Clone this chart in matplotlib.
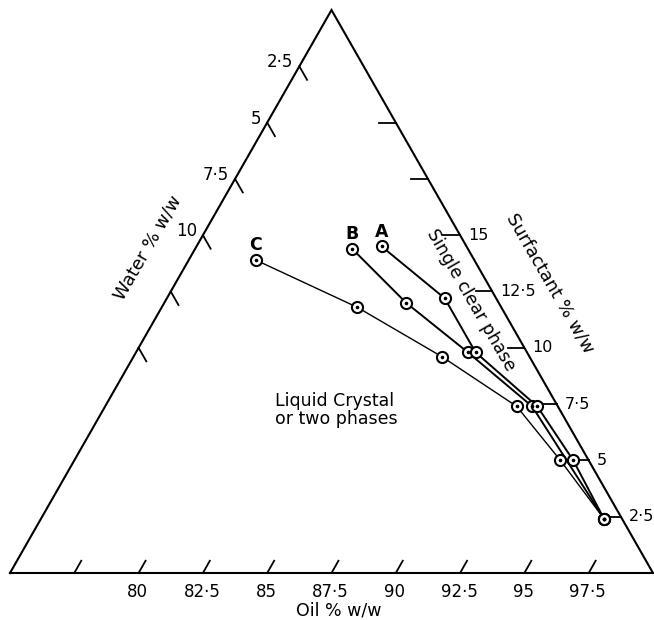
import numpy as np
import matplotlib.pyplot as plt

# composition (% w/w); water = 100 - oil - surfactant
a_oil = [82.2, 85.8, 88.2, 91.8, 94.4, 96.9]
a_surf = [14.5, 12.2, 9.8, 7.4, 5.0, 2.4]
b_oil = [81.1, 84.4, 87.9, 91.6, 96.9]
b_surf = [14.4, 12.0, 9.8, 7.4, 2.4]
c_oil = [77.6, 82.6, 87.0, 91.0, 93.9, 96.9]
c_surf = [13.9, 11.8, 9.6, 7.4, 5.0, 2.4]

oil_ticks = [77.5, 80, 82.5, 85, 87.5, 90, 92.5, 95, 97.5]
oil_labels = ['', '80', '82·5', '85', '87·5', '90', '92·5', '95', '97·5']
water_ticks = [2.5, 5, 7.5, 10, 12.5, 15]
water_labels = ['2·5', '5', '7·5', '10', '', '']
surf_ticks = [2.5, 5, 7.5, 10, 12.5, 15, 17.5, 20]
surf_labels = ['2·5', '5', '7·5', '10', '12·5', '15', '', '']

H = np.sqrt(3) / 2 * 25
SX, SY = 25.72, 26.0   # pixels per data unit


def tern(oil, surf):
    oil = np.asarray(oil, float)
    surf = np.asarray(surf, float)
    return (oil - 75) + surf / 2, surf * H / 25


fig = plt.figure(figsize=(6.54, 6.2), dpi=100)
ax = fig.add_axes([0, 0, 1, 1])
ax.set_xlim(-10 / SX, 25 + 1 / SX)
ax.set_ylim(-47 / SY, H + 10 / SY)
ax.axis('off')

# triangle
tx, ty = tern([75, 100, 75, 75], [0, 0, 25, 0])
ax.plot(tx, ty, 'k-', lw=1.5, solid_joinstyle='miter')

fs = 12
# oil ticks (bottom)
for o, lab in zip(oil_ticks, oil_labels):
    x0, y0 = tern(o, 0)
    ax.plot([x0, x0 + 0.27], [y0, y0 + 0.47], 'k-', lw=1.3)
    if lab:
        ax.text(x0 - 1 / SX, y0 - 19 / SY, lab, ha='center', va='center', fontsize=fs)

# water ticks (left edge)
for w, lab in zip(water_ticks, water_labels):
    x0, y0 = tern(75, 25 - w)
    ax.plot([x0, x0 + 0.3], [y0, y0 - 0.52], 'k-', lw=1.3)
    if lab:
        ax.text(x0 - 6 / SX, y0 + 4 / SY, lab, ha='right', va='center', fontsize=fs)

# surfactant ticks (right edge)
for s, lab in zip(surf_ticks, surf_labels):
    x0, y0 = tern(100 - s, s)
    ax.plot([x0, x0 - 0.65], [y0, y0], 'k-', lw=1.3)
    if lab:
        ax.text(x0 + 8 / SX, y0, lab, ha='left', va='center', fontsize=11.5)

# series
for oil, surf, name, lw in [(c_oil, c_surf, 'C', 1.0), (b_oil, b_surf, 'B', 1.4),
                            (a_oil, a_surf, 'A', 1.4)]:
    x, y = tern(oil, surf)
    ax.plot(x, y, 'k-', lw=lw, zorder=2)
    ax.plot(x, y, 'o', ms=8, mfc='white', mec='black', mew=1.5, zorder=3)
    ax.plot(x, y, 'o', ms=1.6, mfc='black', mec='black', zorder=4)
    ax.annotate(name, (x[0], y[0]), xytext=(0, 10.5), textcoords='offset points',
                ha='center', va='center', fontsize=12.5, fontweight='bold')

# axis titles and region labels
ax.text(329 / SX, -38 / SY, 'Oil % w/w', ha='center', va='center', fontsize=12.5)
ax.text(138 / SX, 325 / SY, 'Water % w/w', ha='center', va='center',
        fontsize=13, rotation=60)
ax.text(540 / SX, 290 / SY, 'Surfactant % w/w', ha='center', va='center',
        fontsize=13, rotation=-60)
ax.text(461 / SX, 273 / SY, 'Single clear phase', ha='center', va='center',
        fontsize=12.5, rotation=-60)
ax.text(265 / SX, 163 / SY, 'Liquid Crystal\nor two phases', ha='left', va='center',
        fontsize=12.5, linespacing=1.0)

fig.savefig('out.png', dpi=100)
